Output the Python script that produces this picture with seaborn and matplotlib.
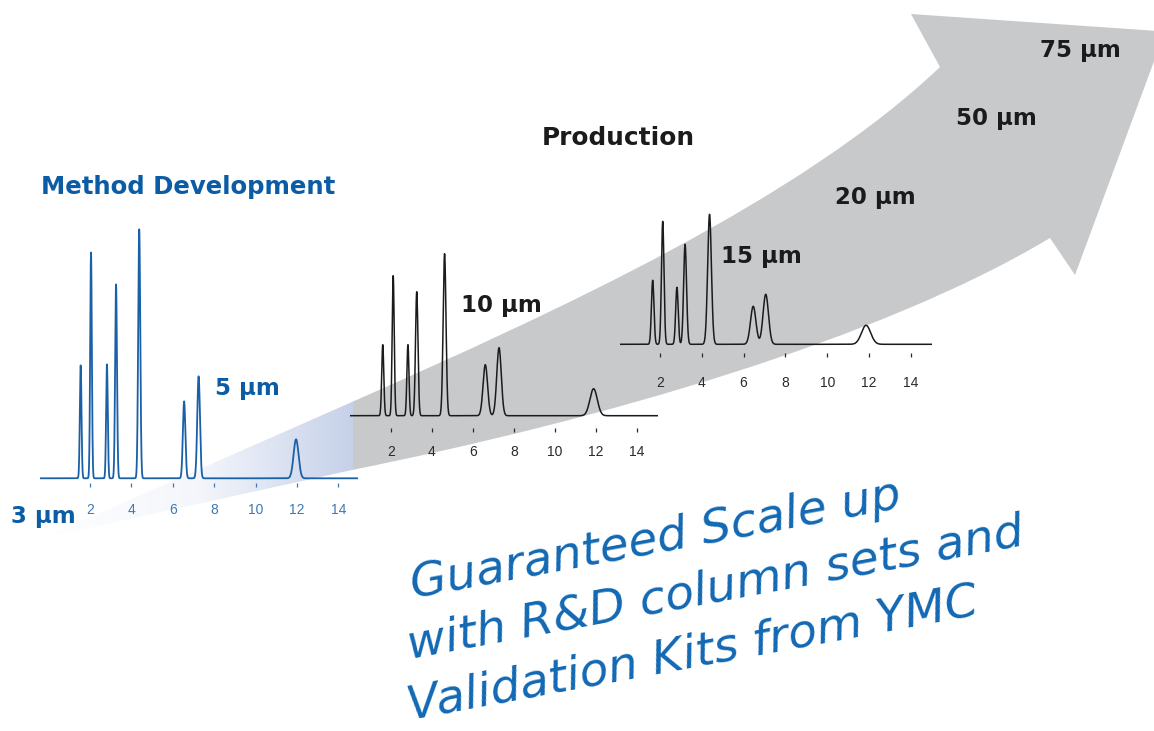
import numpy as np
import pandas as pd
import matplotlib
matplotlib.use("Agg")
import matplotlib.pyplot as plt
from matplotlib.path import Path
from matplotlib.patches import PathPatch, Rectangle
from matplotlib.colors import LinearSegmentedColormap
import seaborn as sns

# ── Data ────────────────────────────────────────────────────
# retention time [min], peak height [a.u.], peak width sigma [min]
tick_times = [2, 4, 6, 8, 10, 12, 14]

rt_5um     = [1.55, 2.05, 2.82, 3.26, 4.38, 6.55, 7.25, 11.96]
height_5um = [113, 226, 114, 194, 249, 77, 102, 39]
sigma_5um  = [0.04, 0.04, 0.04, 0.045, 0.05, 0.06, 0.065, 0.12]

rt_10um     = [1.60, 2.11, 2.83, 3.26, 4.62, 6.61, 7.28, 11.90]
height_10um = [71, 140, 71, 124, 162, 51, 68, 27]
sigma_10um  = [0.05, 0.05, 0.05, 0.06, 0.07, 0.11, 0.11, 0.18]

rt_15um     = [1.65, 2.13, 2.81, 3.20, 4.37, 6.46, 7.06, 11.86]
height_15um = [64, 123, 57, 100, 130, 38, 50, 19]
sigma_15um  = [0.06, 0.06, 0.06, 0.07, 0.09, 0.13, 0.13, 0.22]

size_labels = ["3 µm", "5 µm", "10 µm", "15 µm", "20 µm", "50 µm", "75 µm"]
slogan_lines = ["Guaranteed Scale up",
                "with R&D column sets and",
                "Validation Kits from YMC"]

# ── Style ──────────────────────────────────────────────────
sns.set_style("white")
plt.rcParams["font.family"] = ["DejaVu Sans"]

W, H = 1154, 731
BLUE = "#0b5ca5"
TRACE_BLUE = "#1a60a8"
BLACK = "#1b1b1b"
GRAY = "#c8c9cb"
HAND_BLUE = "#1268b3"

fig = plt.figure(figsize=(W / 100, H / 100), dpi=100)
fig.patch.set_facecolor("white")

# background canvas in pixel units
bg = fig.add_axes([0, 0, 1, 1])
bg.set_xlim(0, W)
bg.set_ylim(H, 0)
bg.axis("off")

# ── Curved arrow ───────────────────────────────────────────
verts = [(43, 538), (352, 402),
         (560, 310), (800, 200), (940, 67),
         (911, 14), (1165, 31.5), (1075, 275), (1050, 238),
         (880, 340), (600, 420), (352, 470),
         (43, 538), (43, 538)]
codes = [Path.MOVETO, Path.LINETO,
         Path.CURVE4, Path.CURVE4, Path.CURVE4,
         Path.LINETO, Path.LINETO, Path.LINETO, Path.LINETO,
         Path.CURVE4, Path.CURVE4, Path.CURVE4,
         Path.LINETO, Path.CLOSEPOLY]
arrow_path = Path(verts, codes)
arrow = PathPatch(arrow_path, facecolor=GRAY, edgecolor="none", zorder=1)
bg.add_patch(arrow)
# gray only right of the first chromatogram
arrow.set_clip_path(Rectangle((352, 0), W, H, transform=bg.transData))

# blue fading tail of the arrow
tail = PathPatch(arrow_path, facecolor="none", edgecolor="none")
bg.add_patch(tail)
wedge_cmap = LinearSegmentedColormap.from_list("wedge", ["#ffffff", "#f4f6fb", "#c6d1e9"])
grad = np.linspace(0, 1, 256)[None, :]
im = bg.imshow(grad, cmap=wedge_cmap, extent=(43, 352.5, 545, 395),
               aspect="auto", zorder=2, interpolation="bilinear")
im.set_clip_path(tail)
bg.set_xlim(0, W)
bg.set_ylim(H, 0)


# ── Chromatograms ──────────────────────────────────────────
def draw_chrom(rt, heights, sigmas, x0, x1, base_y, tick_y, top_y,
               t0_px, ppu, color, tick_color, pad, lw):
    ax = fig.add_axes([x0 / W, 1 - tick_y / H, (x1 - x0) / W, (tick_y - top_y) / H])
    t_lo, t_hi = (x0 - t0_px) / ppu, (x1 - t0_px) / ppu
    t = np.linspace(t_lo, t_hi, 4000)
    sig = np.zeros_like(t)
    for r, h, s in zip(rt, heights, sigmas):
        sig += h * np.exp(-0.5 * ((t - r) / s) ** 2)
    df = pd.DataFrame({"time": t, "signal": sig})
    sns.lineplot(data=df, x="time", y="signal", ax=ax, color=color,
                 linewidth=lw, estimator=None, sort=False)
    ax.set_xlim(t_lo, t_hi)
    ax.set_ylim(-(tick_y - base_y), base_y - top_y)
    ax.patch.set_alpha(0)
    for sp in ax.spines.values():
        sp.set_visible(False)
    ax.set_xticks(tick_times)
    ax.set_xticklabels([str(v) for v in tick_times],
                       family=["Liberation Sans Narrow", "Liberation Sans"])
    ax.set_yticks([])
    ax.set_xlabel("")
    ax.set_ylabel("")
    ax.tick_params(axis="x", direction="out", length=2.6, width=0.9,
                   colors=tick_color, labelsize=10, pad=pad, bottom=True)
    return ax


draw_chrom(rt_5um, height_5um, sigma_5um, 40, 358, 478.3, 483, 215,
           48.6, 20.69, TRACE_BLUE, "#3b78b8", 12.0, 1.3)
draw_chrom(rt_10um, height_10um, sigma_10um, 350, 658, 415.7, 428, 245,
           350.0, 20.47, BLACK, "#2a2a2a", 9.5, 1.1)
draw_chrom(rt_15um, height_15um, sigma_15um, 620, 932, 344.3, 353, 205,
           618.2, 20.9, BLACK, "#2a2a2a", 14.0, 1.1)

# ── Headings and particle-size labels ──────────────────────
bg.text(41, 194, "Method Development", fontsize=17.6, fontweight="bold",
        color=BLUE, ha="left", va="baseline", zorder=5)
bg.text(542, 145, "Production", fontsize=17.8, fontweight="bold",
        color=BLACK, ha="left", va="baseline", zorder=5)

label_pos = [(11, 523), (215, 395), (461, 312), (721, 263),
             (835, 204), (956, 125), (1040, 57)]
label_col = [BLUE, BLUE, BLACK, BLACK, BLACK, BLACK, BLACK]
for txt, (lx, ly), c in zip(size_labels, label_pos, label_col):
    bg.text(lx, ly, txt, fontsize=16.5, fontweight="bold", color=c,
            ha="left", va="baseline", zorder=5)

# ── Hand-written slogan ────────────────────────────────────
slogan_pos = [(413, 598), (410, 659), (410, 720)]
for line, (sx, sy) in zip(slogan_lines, slogan_pos):
    bg.text(sx, sy, line, fontsize=34, style="oblique", color=HAND_BLUE,
            rotation=10.5, rotation_mode="anchor", ha="left", va="baseline",
            zorder=6)

fig.savefig("out.png", dpi=100, facecolor="white")
